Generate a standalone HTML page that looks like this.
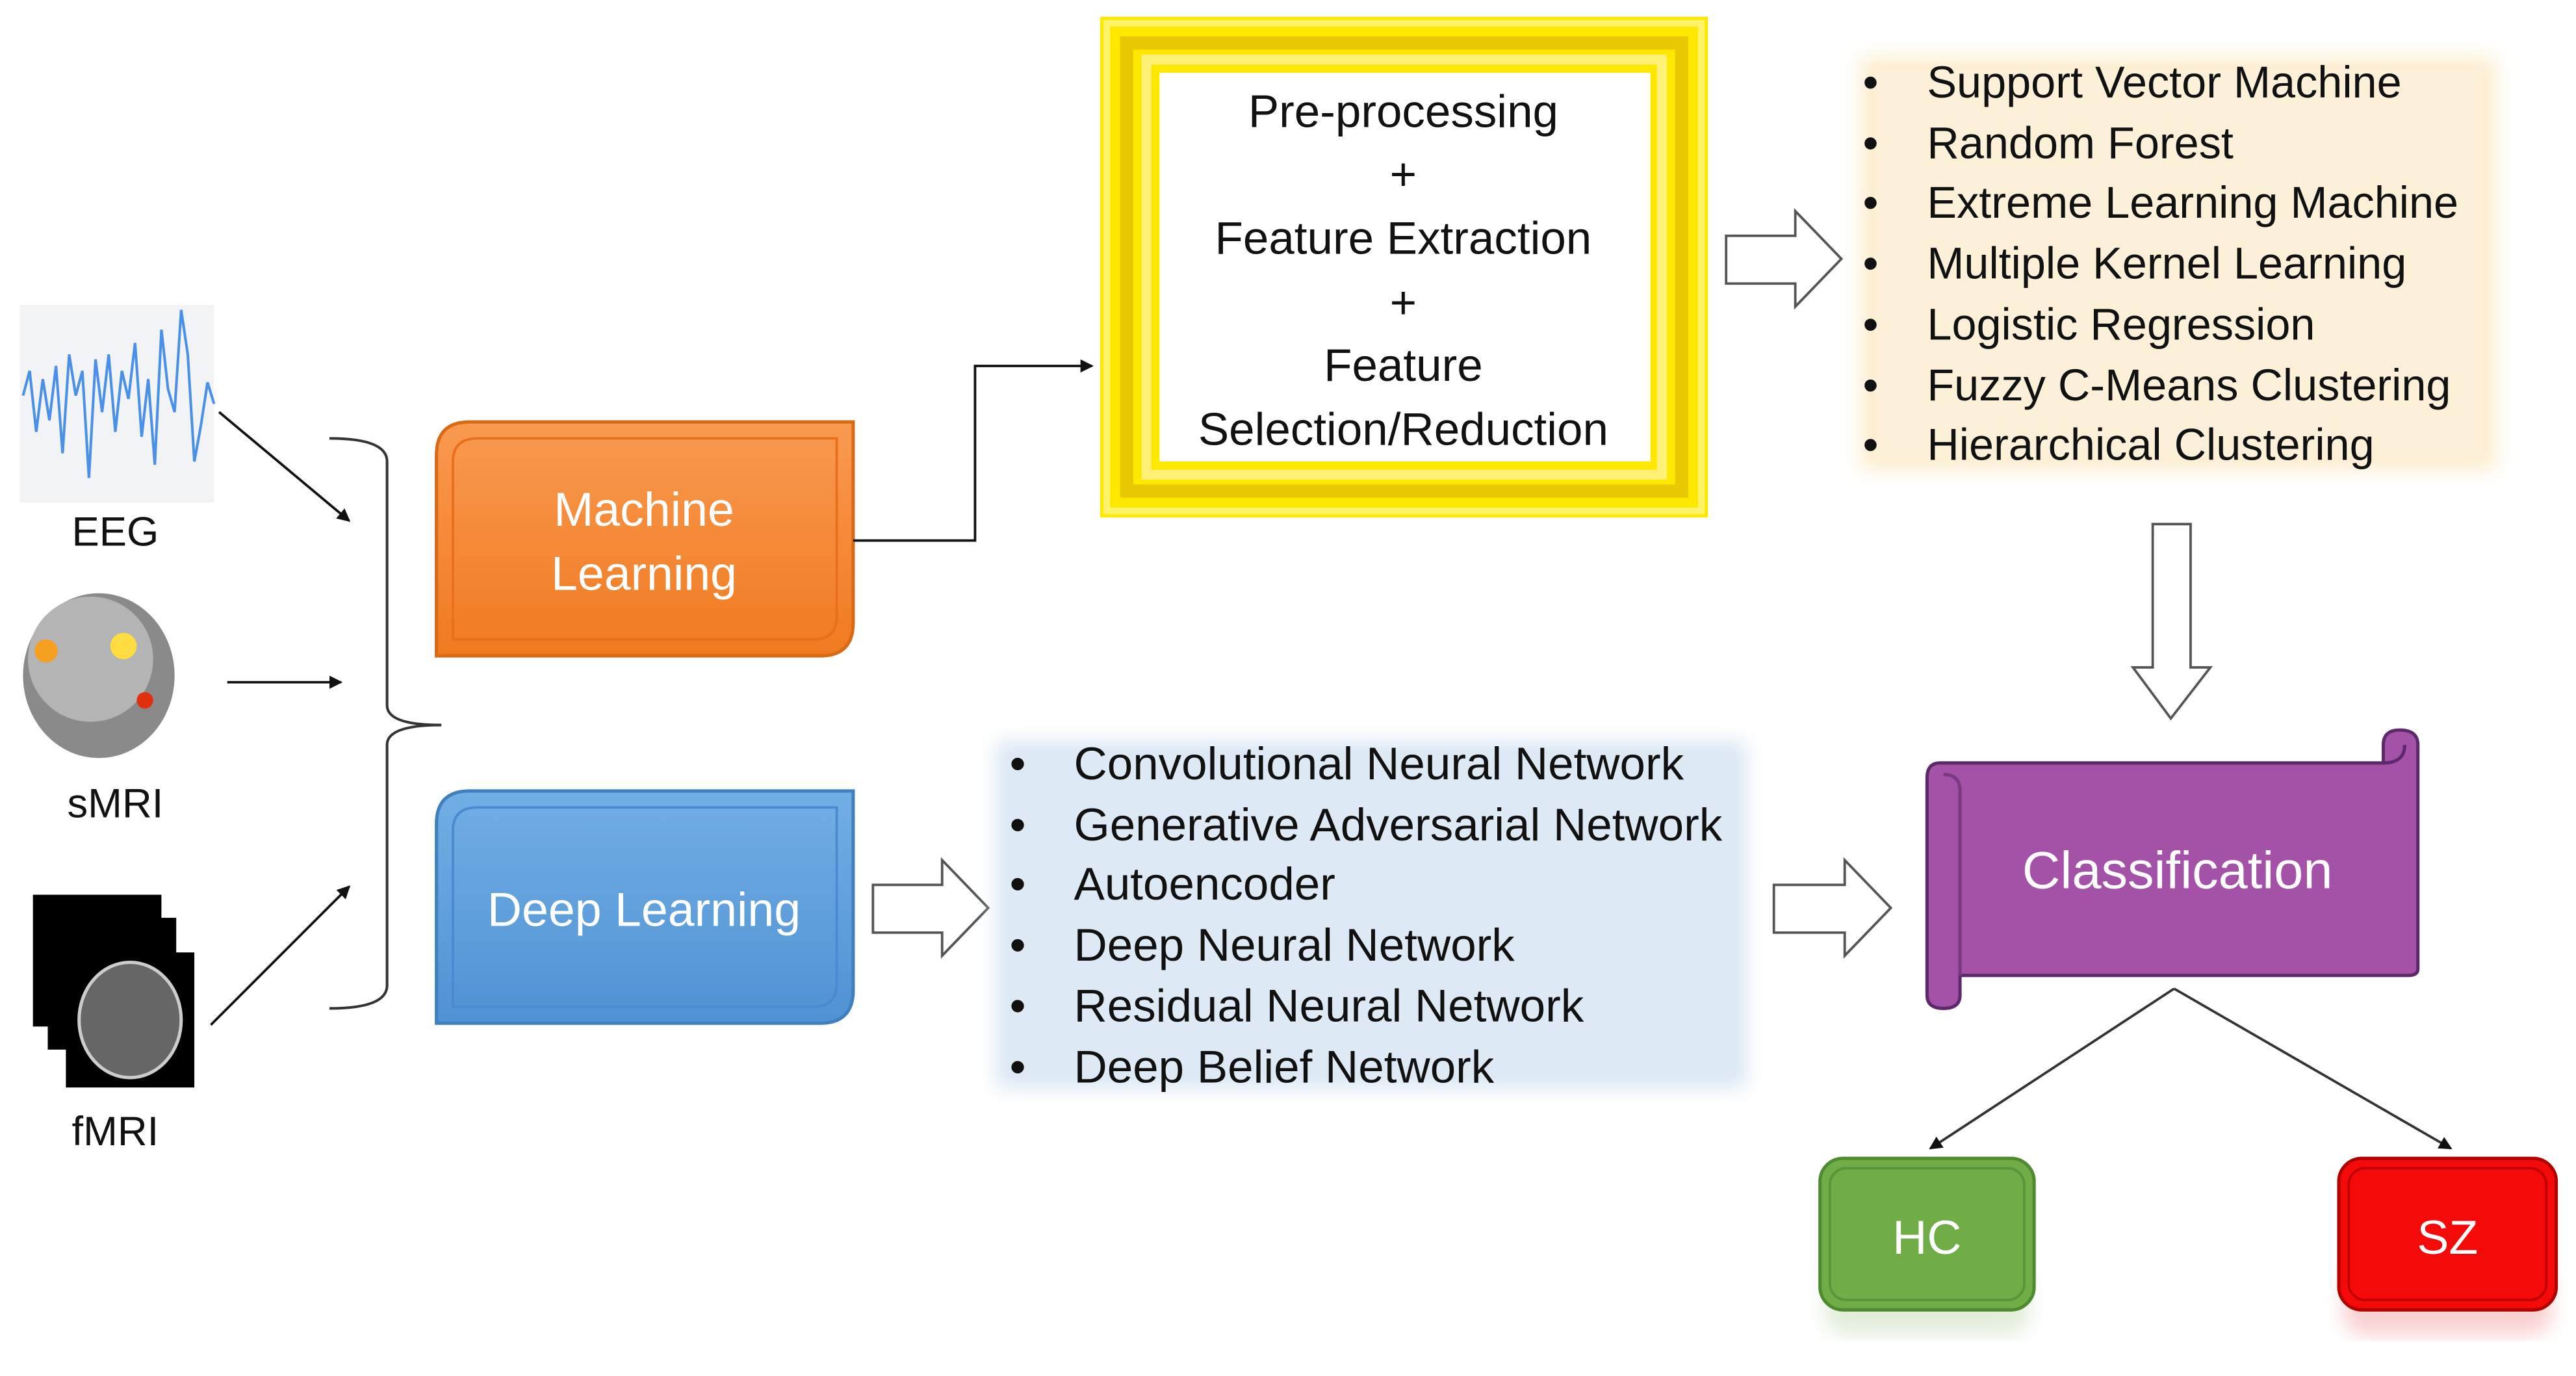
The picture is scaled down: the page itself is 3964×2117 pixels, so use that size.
<!DOCTYPE html>
<html><head><meta charset="utf-8"><style>
html,body{margin:0;padding:0;background:#fff;}
svg{display:block;}
text{font-family:"Liberation Sans",sans-serif;}
</style></head><body>
<svg width="3964" height="2117" viewBox="0 0 1564 835" xmlns="http://www.w3.org/2000/svg">
<defs>
<marker id="ah" markerWidth="8" markerHeight="8" refX="7" refY="4" orient="auto" markerUnits="userSpaceOnUse"><path d="M0,0 L8,4 L0,8 z" fill="#111"/></marker>
<linearGradient id="og" x1="0" y1="0" x2="0" y2="1"><stop offset="0" stop-color="#f99a50"/><stop offset="1" stop-color="#f07a20"/></linearGradient>
<linearGradient id="bg" x1="0" y1="0" x2="0" y2="1"><stop offset="0" stop-color="#72aee6"/><stop offset="1" stop-color="#4f92d2"/></linearGradient>
<filter id="blur"><feGaussianBlur stdDeviation="6"/></filter>
</defs>
<rect width="1564" height="835" fill="#fff"/>

<!-- EEG -->
<rect x="12" y="185" width="118" height="120" fill="#f1f3f5"/>
<polyline fill="none" stroke="#4a90e8" stroke-width="1.6" points="14,240 18,225 22,262 26,230 30,255 34,222 38,275 42,215 46,240 50,225 54,290 58,218 62,250 66,215 70,262 74,225 78,242 82,208 86,265 90,230 94,282 98,200 102,236 106,250 110,188 114,215 118,280 122,258 126,232 130,245"/>
<text x="70" y="331" font-size="25" text-anchor="middle" fill="#111">EEG</text>
<!-- sMRI -->
<ellipse cx="60" cy="410" rx="46" ry="50" fill="#8a8a8a"/>
<ellipse cx="55" cy="400" rx="38" ry="38" fill="#b4b4b4"/>
<circle cx="28" cy="395" r="7" fill="#f5a020"/><circle cx="75" cy="392" r="8" fill="#ffdd40"/><circle cx="88" cy="425" r="5" fill="#e03010"/>
<text x="70" y="496" font-size="25" text-anchor="middle" fill="#111">sMRI</text>
<!-- fMRI -->
<rect x="20" y="543" width="78" height="80" fill="#000"/>
<rect x="29" y="557" width="78" height="80" fill="#000"/>
<rect x="40" y="578" width="78" height="82" fill="#000"/>
<ellipse cx="79" cy="619" rx="31" ry="35" fill="#666" stroke="#ccc" stroke-width="2"/>
<text x="70" y="695" font-size="25" text-anchor="middle" fill="#111">fMRI</text>

<!-- input arrows -->
<line x1="133" y1="250" x2="212" y2="316" stroke="#111" stroke-width="1.5" marker-end="url(#ah)"/>
<line x1="138" y1="414" x2="207" y2="414" stroke="#111" stroke-width="1.5" marker-end="url(#ah)"/>
<line x1="128" y1="622" x2="212" y2="538" stroke="#111" stroke-width="1.5" marker-end="url(#ah)"/>
<!-- brace -->
<path d="M200,266 Q235,266 235,280 L235,428 Q235,440 268,440 Q235,440 235,452 L235,598 Q235,612 200,612" fill="none" stroke="#333" stroke-width="1.6"/>

<!-- ML box -->
<path d="M285,256 L518,256 L518,378 Q518,398 498,398 L265,398 L265,276 Q265,256 285,256 z" fill="url(#og)" stroke="#d96a15" stroke-width="2"/>
<path d="M290,266 L508,266 L508,374 Q508,388 494,388 L275,388 L275,280 Q275,266 290,266 z" fill="none" stroke="#e8701c" stroke-width="1.5"/>
<text x="391" y="319" font-size="29" text-anchor="middle" fill="#fff">Machine</text>
<text x="391" y="358" font-size="29" text-anchor="middle" fill="#fff">Learning</text>
<!-- DL box -->
<path d="M285,480 L518,480 L518,601 Q518,621 498,621 L265,621 L265,500 Q265,480 285,480 z" fill="url(#bg)" stroke="#3f7fbf" stroke-width="2"/>
<path d="M290,490 L508,490 L508,597 Q508,611 494,611 L275,611 L275,504 Q275,490 290,490 z" fill="none" stroke="#4a8ad0" stroke-width="1.5"/>
<text x="391" y="562" font-size="29" text-anchor="middle" fill="#fff">Deep Learning</text>

<!-- ML connector -->
<polyline points="518,328 592,328 592,222 663,222" fill="none" stroke="#111" stroke-width="1.5" marker-end="url(#ah)"/>

<!-- Yellow frame -->
<rect x="668" y="10" width="369" height="304" fill="#ffe800"/>
<rect x="672" y="14" width="361" height="296" fill="none" stroke="#fff36a" stroke-width="4"/>
<rect x="684" y="26" width="337" height="272" fill="none" stroke="#e8c800" stroke-width="8"/>
<rect x="696" y="36" width="313" height="252" fill="none" stroke="#fff176" stroke-width="6"/>
<rect x="704" y="44" width="298" height="236" fill="#fff"/>
<g font-size="28" text-anchor="middle" fill="#111">
<text x="852" y="77">Pre-processing</text>
<text x="852" y="115">+</text>
<text x="852" y="154">Feature Extraction</text>
<text x="852" y="193">+</text>
<text x="852" y="231">Feature</text>
<text x="852" y="270">Selection/Reduction</text>
</g>

<!-- right block arrow top -->
<path d="M1048,143 L1090,143 L1090,128 L1118,157 L1090,186 L1090,172 L1048,172 z" fill="#fff" stroke="#555" stroke-width="1.5"/>

<!-- beige list -->
<rect x="1130" y="35" width="385" height="250" fill="#fdeccc" filter="url(#blur)"/>
<rect x="1138" y="42" width="370" height="236" fill="#fdf0d8"/>
<g font-size="27" fill="#111">
<text x="1131" y="59">•</text><text x="1170" y="59">Support Vector Machine</text>
<text x="1131" y="96">•</text><text x="1170" y="96">Random Forest</text>
<text x="1131" y="132">•</text><text x="1170" y="132">Extreme Learning Machine</text>
<text x="1131" y="169">•</text><text x="1170" y="169">Multiple Kernel Learning</text>
<text x="1131" y="206">•</text><text x="1170" y="206">Logistic Regression</text>
<text x="1131" y="243">•</text><text x="1170" y="243">Fuzzy C-Means Clustering</text>
<text x="1131" y="279">•</text><text x="1170" y="279">Hierarchical Clustering</text>
</g>

<!-- down block arrow -->
<path d="M1307,318 L1330,318 L1330,405 L1342,405 L1318,436 L1295,405 L1307,405 z" fill="#fff" stroke="#555" stroke-width="1.5"/>

<!-- DL arrow -->
<path d="M530,537 L572,537 L572,522 L600,551 L572,580 L572,566 L530,566 z" fill="#fff" stroke="#555" stroke-width="1.5"/>

<!-- blue list -->
<rect x="605" y="450" width="455" height="210" fill="#d8e6f4" filter="url(#blur)"/>
<rect x="612" y="456" width="442" height="198" fill="#dde9f5"/>
<g font-size="28" fill="#111">
<text x="613" y="473">•</text><text x="652" y="473">Convolutional Neural Network</text>
<text x="613" y="510">•</text><text x="652" y="510">Generative Adversarial Network</text>
<text x="613" y="546">•</text><text x="652" y="546">Autoencoder</text>
<text x="613" y="583">•</text><text x="652" y="583">Deep Neural Network</text>
<text x="613" y="620">•</text><text x="652" y="620">Residual Neural Network</text>
<text x="613" y="657">•</text><text x="652" y="657">Deep Belief Network</text>
</g>

<!-- list to class arrow -->
<path d="M1077,537 L1120,537 L1120,522 L1148,551 L1120,580 L1120,566 L1077,566 z" fill="#fff" stroke="#555" stroke-width="1.5"/>

<!-- Classification scroll -->
<path d="M1178,463 L1447,463 L1447,452 Q1447,443 1457,443 Q1468,443 1468,452 L1468,588 Q1468,592 1462,592 L1190,592 L1190,604 Q1190,612 1180,612 Q1170,612 1170,604 L1170,472 Q1170,463 1178,463 z" fill="#a352a8" stroke="#5c2a6a" stroke-width="2"/>
<path d="M1447,463 Q1460,463 1460,452" fill="none" stroke="#5c2a6a" stroke-width="2"/>
<path d="M1190,592 L1190,480 Q1190,470 1180,470" fill="none" stroke="#7a3a80" stroke-width="2"/>
<text x="1322" y="539" font-size="32" text-anchor="middle" fill="#fff">Classification</text>

<!-- class lines -->
<line x1="1320" y1="600" x2="1172" y2="697" stroke="#333" stroke-width="1.5" marker-end="url(#ah)"/>
<line x1="1320" y1="600" x2="1488" y2="697" stroke="#333" stroke-width="1.5" marker-end="url(#ah)"/>

<!-- HC / SZ -->
<rect x="1108" y="770" width="124" height="40" rx="12" fill="#c5dcb5" opacity="0.5" filter="url(#blur)"/>
<rect x="1105" y="703" width="130" height="92" rx="14" fill="#70ad47" stroke="#4f8a30" stroke-width="2"/>
<rect x="1111" y="709" width="118" height="80" rx="10" fill="none" stroke="#5a9438" stroke-width="1.5"/>
<text x="1170" y="761" font-size="29" text-anchor="middle" fill="#fff">HC</text>
<rect x="1423" y="770" width="126" height="40" rx="12" fill="#f5a0a0" opacity="0.5" filter="url(#blur)"/>
<rect x="1420" y="703" width="132" height="92" rx="14" fill="#f50a0a" stroke="#b00000" stroke-width="2"/>
<rect x="1426" y="709" width="120" height="80" rx="10" fill="none" stroke="#c00000" stroke-width="1.5"/>
<text x="1486" y="761" font-size="29" text-anchor="middle" fill="#fff">SZ</text>
</svg>
</body></html>
